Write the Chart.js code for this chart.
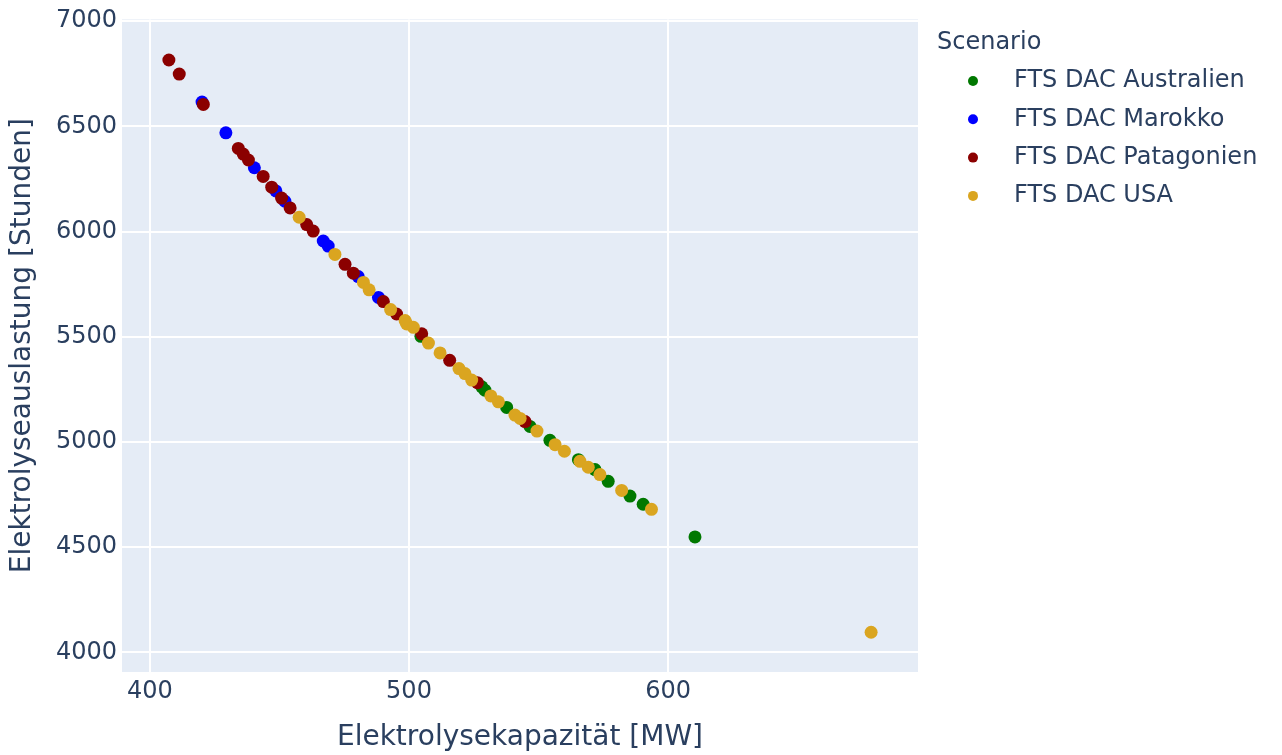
<!DOCTYPE html>
<html>
<head>
<meta charset="utf-8">
<script src="https://cdn.jsdelivr.net/npm/chart.js@4.4.1/dist/chart.umd.min.js"></script>
<style>
  html, body { margin: 0; padding: 0; background: #fff; }
  #wrap { width: 1282px; height: 755px; }
</style>
</head>
<body>
<div id="wrap"><canvas id="auslastung" width="1282" height="755"></canvas></div>
<script>
// Elektrolysekapazität [MW] / Elektrolyseauslastung [Stunden] je Szenario
const australien = [
    [504.6, 5502], [528.1, 5262], [529.3, 5246], [537.7, 5164], [546.7, 5074],
    [554.4, 5008], [565.4, 4916], [571.8, 4869], [576.9, 4813], [585.3, 4743],
    [590.4, 4704], [610.4, 4549]
];
const marokko = [
    [420.1, 6615], [429.3, 6469], [440.3, 6303], [448.6, 6193], [452.1, 6144],
    [466.9, 5955], [468.8, 5931], [480.4, 5786], [488.2, 5687]
];
const patagonien = [
    [407.3, 6815], [411.3, 6748], [420.6, 6604], [434.1, 6395], [436.0, 6368],
    [438.0, 6340], [443.7, 6262], [447.0, 6211], [450.8, 6159], [454.1, 6112],
    [460.5, 6033], [463.0, 6002], [475.3, 5844], [478.5, 5802], [490.1, 5667],
    [495.2, 5608], [504.9, 5514], [515.7, 5388], [526.4, 5282], [544.8, 5097]
];
const usa = [
    [457.6, 6068], [471.4, 5891], [482.4, 5758], [484.6, 5723], [492.9, 5629],
    [498.5, 5577], [499.1, 5561], [501.7, 5545], [507.5, 5470], [512.0, 5423],
    [519.3, 5349], [521.6, 5325], [524.2, 5294], [531.6, 5219], [534.5, 5191],
    [540.9, 5128], [542.9, 5112], [549.4, 5052], [556.4, 4987], [560.0, 4956],
    [566.0, 4908], [569.2, 4880], [573.7, 4845], [582.1, 4770], [593.6, 4680],
    [678.4, 4096]
];

const szenarien = ['FTS DAC Australien', 'FTS DAC Marokko', 'FTS DAC Patagonien', 'FTS DAC USA'];
const farben = ['#007800', '#0000ff', '#8b0000', '#daa520'];
const reihen = [australien, marokko, patagonien, usa];

const xTicks = [400, 500, 600];
const yTicks = [4000, 4500, 5000, 5500, 6000, 6500, 7000];

const schrift = 'DejaVu Sans';
const textFarbe = '#2a3f5f';

// Hintergrund der Plotfläche
const plotHintergrund = {
    id: 'plotHintergrund',
    beforeDraw(chart) {
        const {ctx, chartArea: a} = chart;
        ctx.save();
        ctx.fillStyle = '#e5ecf6';
        ctx.fillRect(a.left, a.top, a.right - a.left, a.bottom - a.top);
        ctx.restore();
    }
};

// Legende rechts neben dem Plot
const legendeRechts = {
    id: 'legendeRechts',
    afterDraw(chart) {
        const ctx = chart.ctx;
        ctx.save();
        ctx.fillStyle = textFarbe;
        ctx.font = '24px "' + schrift + '"';
        ctx.textBaseline = 'middle';
        ctx.textAlign = 'left';
        ctx.fillText('Scenario', 937, 43);
        chart.data.datasets.forEach((ds, i) => {
            const y = 81 + i * 38.3;
            ctx.beginPath();
            ctx.fillStyle = ds.backgroundColor;
            ctx.arc(973, y, 5, 0, Math.PI * 2);
            ctx.fill();
            ctx.fillStyle = textFarbe;
            ctx.fillText(ds.label, 1014, y);
        });
        ctx.restore();
    }
};

const ctx = document.getElementById('auslastung').getContext('2d');
new Chart(ctx, {
    type: 'scatter',
    data: {
        datasets: reihen.map((r, i) => ({
            label: szenarien[i],
            data: r.map(p => ({x: p[0], y: p[1]})),
            backgroundColor: farben[i],
            borderWidth: 0,
            pointRadius: 6.5,
            order: reihen.length - i
        }))
    },
    options: {
        responsive: false,
        animation: false,
        layout: {
            padding: {top: 15, right: 364, left: 0, bottom: 0}
        },
        plugins: {
            legend: {display: false},
            tooltip: {enabled: false}
        },
        scales: {
            x: {
                type: 'linear',
                min: 389.2,
                max: 696.5,
                afterBuildTicks: axis => { axis.ticks = xTicks.map(v => ({value: v})); },
                afterFit: axis => { axis.height = 83; },
                grid: {color: '#ffffff', lineWidth: 2, drawTicks: false},
                border: {display: false},
                ticks: {
                    color: textFarbe,
                    padding: 5,
                    maxRotation: 0,
                    font: {family: schrift, size: 24},
                    callback: v => String(v)
                },
                title: {
                    display: true,
                    text: 'Elektrolysekapazität [MW]',
                    color: textFarbe,
                    font: {family: schrift, size: 28},
                    padding: {top: 0, bottom: 0}
                }
            },
            y: {
                type: 'linear',
                min: 3907,
                max: 7008,
                afterBuildTicks: axis => { axis.ticks = yTicks.map(v => ({value: v})); },
                afterFit: axis => { axis.width = 122; },
                grid: {color: '#ffffff', lineWidth: 2, drawTicks: false},
                border: {display: false},
                ticks: {
                    color: textFarbe,
                    padding: 5,
                    font: {family: schrift, size: 24},
                    callback: v => String(v)
                },
                title: {
                    display: true,
                    text: 'Elektrolyseauslastung [Stunden]',
                    color: textFarbe,
                    font: {family: schrift, size: 28},
                    padding: {top: 6, bottom: 0}
                }
            }
        }
    },
    plugins: [plotHintergrund, legendeRechts]
});
</script>
</body>
</html>
